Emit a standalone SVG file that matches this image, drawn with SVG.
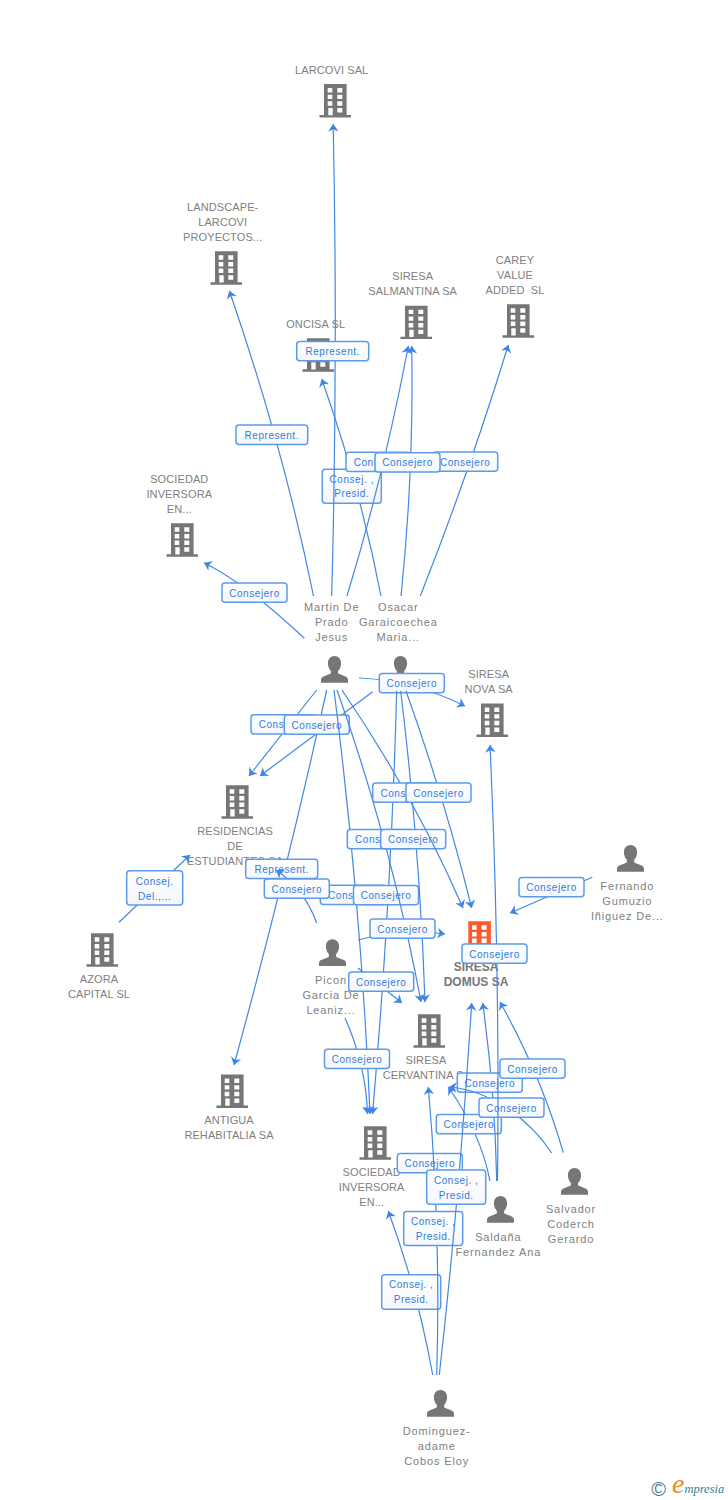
<svg xmlns="http://www.w3.org/2000/svg" width="728" height="1500" viewBox="0 0 728 1500">
<style>
text{font-family:"Liberation Sans",Arial,sans-serif;text-anchor:middle}
.c{font-size:11px;fill:#808080;letter-spacing:.1px}
.p{font-size:11px;fill:#808080;letter-spacing:.85px}
.m{font-size:12px;font-weight:bold;fill:#777}
.e{fill:none;stroke:#4287e6;stroke-width:1.2;marker-end:url(#a)}
.l rect{fill:url(#g);stroke:#5c9bea;stroke-width:1.5}
.l text{font-size:10px;fill:#2f7be0;letter-spacing:.55px}
.l text.s{text-anchor:start}
.bk{fill:#767676}
</style>
<defs>
<linearGradient id="g" x1="0" y1="0" x2="0" y2="1"><stop offset="0" stop-color="#fff"/><stop offset="1" stop-color="#f5f7fb"/></linearGradient>
<marker id="a" markerUnits="userSpaceOnUse" markerWidth="9" markerHeight="11" refX="7.5" refY="5.5" orient="auto" overflow="visible"><path d="M7.5,5.5 L0,0.2 L2.2,5.5 L0,10.8Z" fill="#3f85e6"/></marker>
<g id="w"><path d="M3.7,4h4.6v4.4h-4.6zM13.3,4h5v4.4h-5zM3.7,10.7h4.6v4.4h-4.6zM13.3,10.7h5v4.4h-5zM3.7,17.3h4.6v4.4h-4.6zM13.3,17.3h5v4.4h-5zM4.3,24h4.4v7.3h-4.4zM13.3,24h5v4.4h-5z" fill="#fff"/></g>
<g id="b"><path class="bk" d="M0,0h22.6v31h4.4v2.4h-31.5v-2.4h4.5z"/><use href="#w"/></g>
<g id="o"><path fill="#ff5a2b" d="M0,0h22.6v31h4.4v2.4h-31.5v-2.4h4.5z"/><use href="#w"/></g>
<g id="h"><path class="bk" d="M13.5,0c3.9,0,6.6,3,6.6,7.3c0,3.3,-1.4,6.1,-3,7.6v2.2c0,1,5.5,2.2,8,3.7c1.5,.9,1.9,2.2,1.9,3.5v2.4h-27v-2.4c0,-1.3,.4,-2.6,1.9,-3.5c2.5,-1.5,8,-2.7,8,-3.7v-2.2c-1.6,-1.5,-3,-4.3,-3,-7.6c0,-4.3,2.7,-7.3,6.6,-7.3z"/></g>
</defs>

<g id="node-larcovi"><text class="c" x="331.7" y="74">LARCOVI SAL</text><use href="#b" x="324" y="84"/></g>
<g id="node-landscape"><text class="c" x="222.7" y="210.7">LANDSCAPE-</text><text class="c" x="222.7" y="225.7">LARCOVI</text><text class="c" x="222.7" y="240.7">PROYECTOS...</text><use href="#b" x="215" y="251.3"/></g>
<g id="node-salmantina"><text class="c" x="412.7" y="280">SIRESA</text><text class="c" x="412.7" y="295">SALMANTINA SA</text><use href="#b" x="405" y="305.7"/></g>
<g id="node-carey"><text class="c" x="515" y="264">CAREY</text><text class="c" x="515" y="279">VALUE</text><text class="c" x="515" y="294" xml:space="preserve">ADDED  SL</text><use href="#b" x="507" y="304.3"/></g>
<g id="node-oncisa"><text class="c" x="315.7" y="328">ONCISA SL</text><use href="#b" x="307" y="338.3"/></g>
<g id="node-sociedad-1"><text class="c" x="179.3" y="482.7">SOCIEDAD</text><text class="c" x="179.3" y="497.7">INVERSORA</text><text class="c" x="179.3" y="512.7">EN...</text><use href="#b" x="171" y="523.3"/></g>
<g id="node-martin"><text class="p" x="331.7" y="610.7">Martin De</text><text class="p" x="331.7" y="625.7">Prado</text><text class="p" x="331.7" y="640.7">Jesus</text><use href="#h" x="321" y="656"/></g>
<g id="node-osacar"><text class="p" x="398.3" y="610.7">Osacar</text><text class="p" x="398.3" y="625.7">Garaicoechea</text><text class="p" x="398.3" y="640.7">Maria...</text><use href="#h" x="387" y="656"/></g>
<g id="node-nova"><text class="c" x="488.7" y="677.7">SIRESA</text><text class="c" x="488.7" y="692.7">NOVA SA</text><use href="#b" x="481" y="703.5"/></g>
<g id="node-residencias"><use href="#b" x="226" y="785.3"/><text class="c" x="235" y="835">RESIDENCIAS</text><text class="c" x="235" y="850">DE</text><text class="c" x="235" y="865">ESTUDIANTES SA</text></g>
<g id="node-azora"><use href="#b" x="91" y="933.3"/><text class="c" x="99" y="982.7">AZORA</text><text class="c" x="99" y="997.7">CAPITAL SL</text></g>
<g id="node-antigua"><use href="#b" x="221" y="1074.5"/><text class="c" x="229" y="1124">ANTIGUA</text><text class="c" x="229" y="1139">REHABITALIA SA</text></g>
<g id="node-fernando"><use href="#h" x="617" y="845"/><text class="p" x="627.3" y="890">Fernando</text><text class="p" x="627.3" y="905">Gumuzio</text><text class="p" x="627.3" y="920">Iñiguez De...</text></g>
<g id="node-domus"><use href="#o" x="468.3" y="921.3"/><text class="m" x="476" y="970.7">SIRESA</text><text class="m" x="476" y="985.7">DOMUS SA</text></g>
<g id="node-picon"><use href="#h" x="319" y="939.3"/><text class="p" x="331" y="984">Picon</text><text class="p" x="331" y="999">Garcia De</text><text class="p" x="331" y="1014">Leaniz...</text></g>
<g id="node-cervantina"><use href="#b" x="418" y="1014.3"/><text class="c" x="426" y="1064">SIRESA</text><text class="c" x="382.7" y="1079" style="text-anchor:start">CERVANTINA S</text></g>
<g id="node-sociedad-2"><use href="#b" x="364" y="1126.3"/><text class="c" x="371.7" y="1175.7">SOCIEDAD</text><text class="c" x="371.7" y="1190.7">INVERSORA</text><text class="c" x="371.7" y="1205.7">EN...</text></g>
<g id="node-saldana"><use href="#h" x="487" y="1196"/><text class="p" x="498.3" y="1240.7">Saldaña</text><text class="p" x="498.3" y="1255.7">Fernandez Ana</text></g>
<g id="node-salvador"><use href="#h" x="561" y="1168"/><text class="p" x="571" y="1212.7">Salvador</text><text class="p" x="571" y="1227.7">Coderch</text><text class="p" x="571" y="1242.7">Gerardo</text></g>
<g id="node-dominguez"><use href="#h" x="427" y="1390"/><text class="p" x="436.7" y="1434.7">Dominguez-</text><text class="p" x="436.7" y="1449.7">adame</text><text class="p" x="436.7" y="1464.7">Cobos Eloy</text></g>

<g id="connectors">
<path class="e" d="M313.5,596Q283,446 229.3,290.7"/>
<g class="l"><rect x="236" y="425" width="71.7" height="19.5" rx="3"/><text x="271.8" y="438.5">Represent.</text></g>
<path class="e" d="M381,596Q360,487 321.7,379"/>
<g class="l"><rect x="322.3" y="469.3" width="59" height="34" rx="3"/><text x="351.8" y="482.5">Consej. ,</text><text x="351.8" y="497">Presid.</text></g>
<path class="e" d="M331.7,596Q338,360 333.2,124"/>
<g class="l"><rect x="296.7" y="341.5" width="72" height="19.3" rx="3"/><text x="332.7" y="355">Represent.</text></g>
<path class="e" d="M347,596Q384.4,473 408.3,346"/>
<g class="l"><rect x="346" y="452.3" width="65" height="19.3" rx="3"/><text class="s" x="353.7" y="465.7">Cons</text></g>
<path class="e" d="M420.3,596Q469.7,471 508.3,345"/>
<g class="l"><rect x="432.7" y="452" width="65" height="19.3" rx="3"/><text x="465.2" y="465.5">Consejero</text></g>
<path class="e" d="M401,596Q414,471 411.7,346"/>
<g class="l"><rect x="375" y="452.7" width="65" height="19.3" rx="3"/><text x="407.5" y="466.3">Consejero</text></g>
<path class="e" d="M304.3,638.3Q246,583.5 204,562.7"/>
<g class="l"><rect x="222" y="583" width="65" height="19.3" rx="3"/><text x="254.5" y="596.7">Consejero</text></g>
<path class="e" d="M359,678Q412,680 465,706"/>
<g class="l"><rect x="379.3" y="673.5" width="65" height="19.3" rx="3"/><text x="411.8" y="687">Consejero</text></g>
<path class="e" d="M326.7,690Q285.6,877 234,1065"/>
<g class="l"><rect x="245.7" y="859.3" width="72" height="19.3" rx="3"/><text x="281.7" y="872.7">Represent.</text></g>
<path class="e" d="M316.7,690Q283,733 249,776"/>
<g class="l"><rect x="251" y="714.7" width="65" height="19.3" rx="3"/><text class="s" x="258.7" y="728">Cons</text></g>
<path class="e" d="M372.7,691.7Q316,734 260,776"/>
<g class="l"><rect x="284.3" y="715" width="65" height="19.3" rx="3"/><text x="316.8" y="728.5">Consejero</text></g>
<path class="e" d="M334,690Q361,903 370,1114"/>
<g class="l"><rect x="320.3" y="885.3" width="65" height="19.3" rx="3"/><text class="s" x="328" y="898.8">Cons</text></g>
<path class="e" d="M396.7,691Q391,903 372.5,1114"/>
<g class="l"><rect x="353.5" y="885.5" width="65" height="19.3" rx="3"/><text x="386" y="899">Consejero</text></g>
<path class="e" d="M337,690Q391,842 421,1002"/>
<g class="l"><rect x="347.3" y="829.5" width="65" height="19.3" rx="3"/><text class="s" x="355" y="843">Cons</text></g>
<path class="e" d="M400.7,691Q420,850 425,1002"/>
<g class="l"><rect x="380.7" y="829.5" width="65" height="19.3" rx="3"/><text x="413.2" y="843">Consejero</text></g>
<path class="e" d="M342,690Q416,799 463,908"/>
<g class="l"><rect x="372.7" y="783" width="65" height="19.3" rx="3"/><text class="s" x="380.4" y="796.5">Cons</text></g>
<path class="e" d="M406,691Q445,800 471.7,908"/>
<g class="l"><rect x="406" y="783" width="65" height="19.3" rx="3"/><text x="438.5" y="796.5">Consejero</text></g>
<path class="e" d="M358,940Q402,928 445,934"/>
<g class="l"><rect x="370" y="919" width="65" height="19.3" rx="3"/><text x="402.5" y="932.5">Consejero</text></g>
<path class="e" d="M358,968L402,1003"/>
<g class="l"><rect x="348.7" y="972" width="65" height="19.3" rx="3"/><text x="381.2" y="985.5">Consejero</text></g>
<path class="e" d="M345,1018Q366,1065 367.5,1114"/>
<g class="l"><rect x="324.5" y="1049.2" width="65" height="19.3" rx="3"/><text x="357" y="1062.7">Consejero</text></g>
<path class="e" d="M316.7,923Q305,890 276,870"/>
<g class="l"><rect x="264.3" y="879" width="65" height="19.3" rx="3"/><text x="296.8" y="892.5">Consejero</text></g>
<path class="e" d="M119,922.3L190,855"/>
<g class="l"><rect x="126.7" y="870.7" width="56" height="34.3" rx="3"/><text x="154.7" y="884.5">Consej.</text><text x="154.7" y="899.5">Del.,...</text></g>
<path class="e" d="M592.3,877.3L510,913"/>
<g class="l"><rect x="519" y="877.5" width="65" height="19.3" rx="3"/><text x="551.5" y="891">Consejero</text></g>
<path class="e" d="M432.7,1375Q418,1292 388.3,1211"/>
<g class="l"><rect x="381.7" y="1274.7" width="59" height="34.5" rx="3"/><text x="411.2" y="1288">Consej. ,</text><text x="411.2" y="1303">Presid.</text></g>
<g class="l"><rect x="397.3" y="1153.5" width="65" height="19.3" rx="3"/><text x="429.8" y="1167">Consejero</text></g>
<path class="e" d="M490,1181Q481,1134 448.3,1087"/>
<g class="l"><rect x="436.3" y="1114.5" width="65" height="19.3" rx="3"/><text x="468.8" y="1128">Consejero</text></g>
<path class="e" d="M496.7,1181Q495,1092 482.7,1003"/>
<g class="l"><rect x="457.3" y="1073" width="65" height="19.3" rx="3"/><text x="489.8" y="1086.5">Consejero</text></g>
<path class="e" d="M551.7,1153C530,1120 490,1090 449,1087"/>
<g class="l"><rect x="479" y="1098" width="65" height="19.3" rx="3"/><text x="511.5" y="1111.5">Consejero</text></g>
<path class="e" d="M563.3,1152.7Q541,1075 500,1002"/>
<g class="l"><rect x="500" y="1059" width="65" height="19.3" rx="3"/><text x="532.5" y="1072.5">Consejero</text></g>
<path class="e" d="M436.7,1375Q441,1230 428.3,1087"/>
<g class="l"><rect x="403.7" y="1211.5" width="59" height="34" rx="3"/><text x="433.2" y="1225">Consej. ,</text><text x="433.2" y="1240">Presid.</text></g>
<path class="e" d="M439.3,1375Q460,1190 471.7,1003"/>
<g class="l"><rect x="426.7" y="1170" width="59" height="34.3" rx="3"/><text x="456.2" y="1183.5">Consej. ,</text><text x="456.2" y="1198.5">Presid.</text></g>
<path class="e" d="M497.5,1181Q500,963 490,745"/>
<g class="l"><rect x="462" y="944" width="65" height="19.3" rx="3"/><text x="494.5" y="957.5">Consejero</text></g>
</g>

<g id="logo">
<text x="658.7" y="1496" style="font-family:'Liberation Sans',sans-serif;font-size:20px;fill:#3f7f95">©</text>
<text x="672" y="1493" style="font-family:'Liberation Serif',serif;font-style:italic;font-size:12.5px;fill:#2f7f95;text-anchor:start"><tspan style="font-size:28px;fill:#f08a1d">e</tspan>mpresia</text>
</g>
</svg>
